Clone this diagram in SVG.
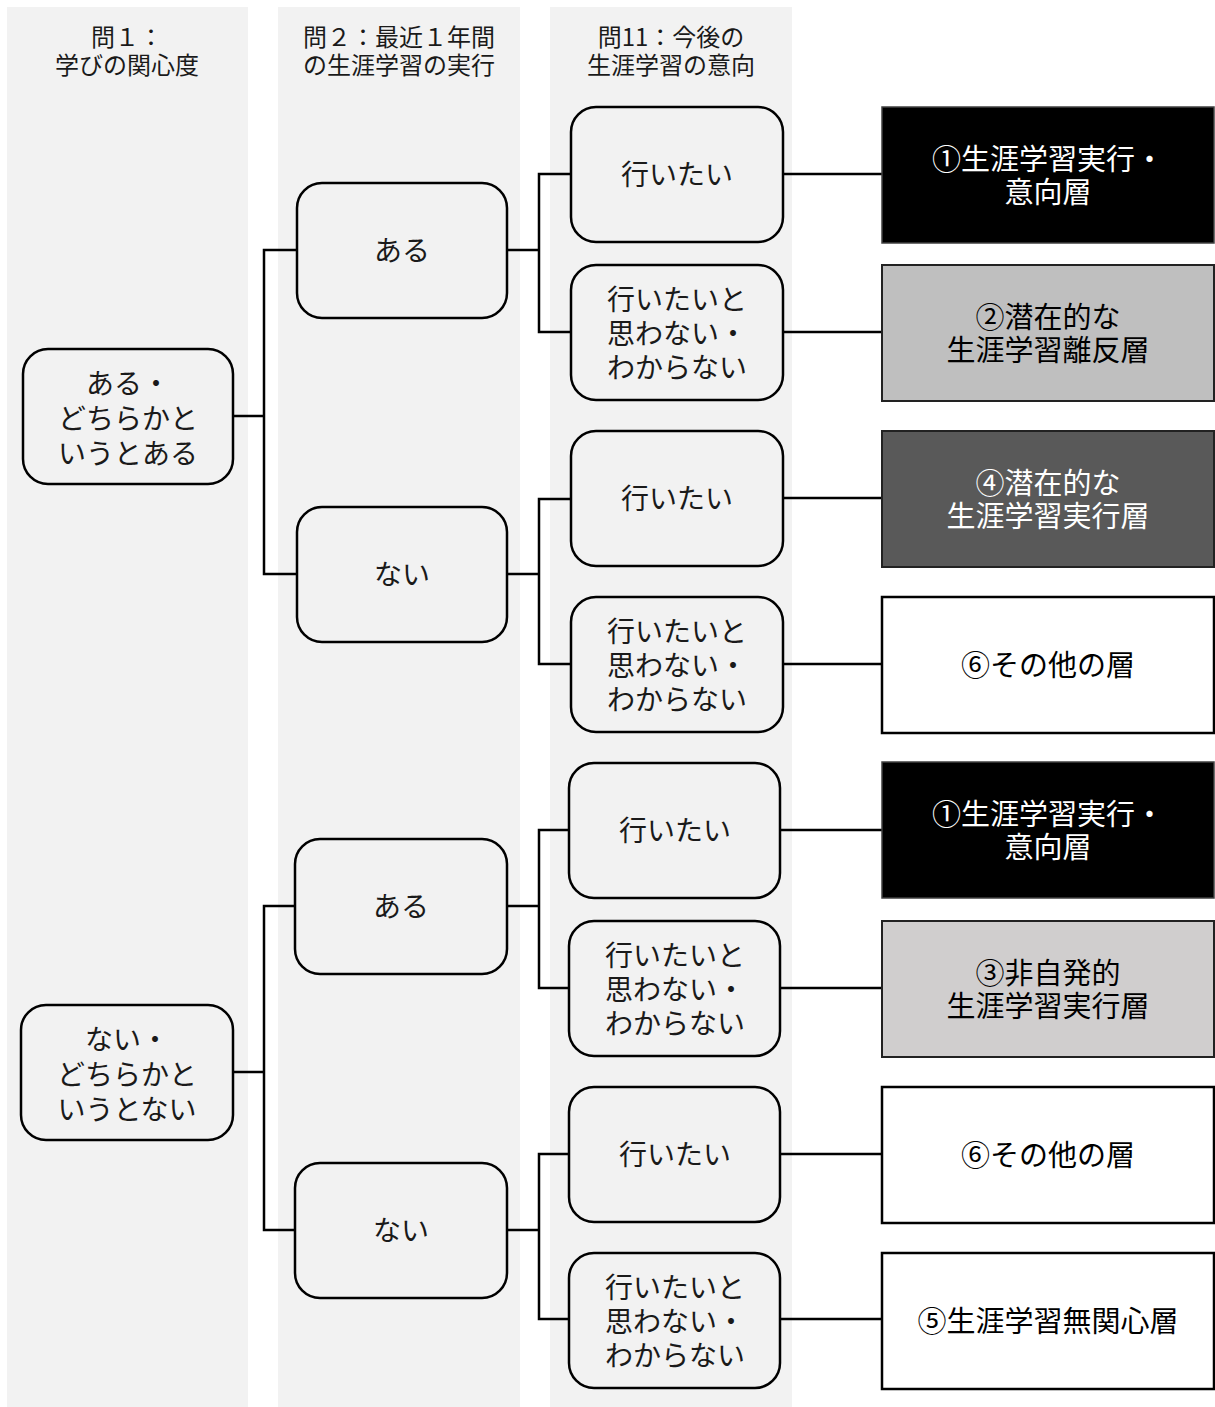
<svg xmlns="http://www.w3.org/2000/svg" width="1215" height="1407" viewBox="0 0 1215 1407">
<style>
.col{fill:#f2f2f2}
.hd{font-family:"Noto Sans CJK JP","Noto Sans CJK SC",sans-serif;font-size:24px;fill:#1a1a1a;text-anchor:middle}
.nd{fill:#f2f2f2;stroke:#000;stroke-width:2.5}
.t{font-family:"Noto Sans CJK JP","Noto Sans CJK SC",sans-serif;font-size:28px;fill:#1a1a1a;text-anchor:middle}
.r{font-family:"Noto Sans CJK JP","Noto Sans CJK SC",sans-serif;font-size:29px;fill:#000;text-anchor:middle}
.w{fill:#fff}
.cn{fill:none;stroke:#000;stroke-width:2.5}
</style>
<rect width="1215" height="1407" fill="#fff"/>
<g id="columns">
<rect class="col" x="7" y="7" width="241" height="1400"/>
<rect class="col" x="278" y="7" width="242" height="1400"/>
<rect class="col" x="550" y="7" width="242" height="1400"/>
</g>
<g id="headers">
<text class="hd" x="127" y="46">問１：</text>
<text class="hd" x="127" y="74">学びの関心度</text>
<text class="hd" x="399" y="46">問２：最近１年間</text>
<text class="hd" x="399" y="74">の生涯学習の実行</text>
<text class="hd" x="671" y="46">問11：今後の</text>
<text class="hd" x="671" y="74">生涯学習の意向</text>
</g>
<g id="connectors">
<path class="cn" d="M233,416 H264 M297,250 H264 V574 H297"/>
<path class="cn" d="M507,250 H539 M571,174 H539 V332 H571"/>
<path class="cn" d="M507,574 H539 M571,499 H539 V664 H571"/>
<path class="cn" d="M783,174 H882 M783,332 H882 M783,498 H882 M783,664 H882"/>
<path class="cn" d="M233,1072 H264 M295,906 H264 V1230 H295"/>
<path class="cn" d="M507,906 H539 M569,830 H539 V988 H569"/>
<path class="cn" d="M507,1230 H539 M569,1154 H539 V1319 H569"/>
<path class="cn" d="M780,830 H882 M780,988 H882 M780,1154 H882 M780,1319 H882"/>
</g>
<g id="q1-yes">
<rect class="nd" x="23" y="349" width="210" height="135" rx="25"/>
<text class="t" x="128" y="394">ある・</text>
<text class="t" x="128" y="429">どちらかと</text>
<text class="t" x="128" y="464">いうとある</text>
</g>
<g id="q1-no">
<rect class="nd" x="21" y="1005" width="212" height="135" rx="25"/>
<text class="t" x="127" y="1050">ない・</text>
<text class="t" x="127" y="1085">どちらかと</text>
<text class="t" x="127" y="1120">いうとない</text>
</g>
<g id="q2-a-yes">
<rect class="nd" x="297" y="183" width="210" height="135" rx="25"/>
<text class="t" x="402" y="261">ある</text>
</g>
<g id="q2-a-no">
<rect class="nd" x="297" y="507" width="210" height="135" rx="25"/>
<text class="t" x="402" y="585">ない</text>
</g>
<g id="q2-b-yes">
<rect class="nd" x="295" y="839" width="212" height="135" rx="25"/>
<text class="t" x="401" y="917">ある</text>
</g>
<g id="q2-b-no">
<rect class="nd" x="295" y="1163" width="212" height="135" rx="25"/>
<text class="t" x="401" y="1241">ない</text>
</g>
<g id="q11-1">
<rect class="nd" x="571" y="107" width="212" height="135" rx="25"/>
<text class="t" x="677" y="185">行いたい</text>
</g>
<g id="q11-2">
<rect class="nd" x="571" y="265" width="212" height="135" rx="25"/>
<text class="t" x="677" y="310">行いたいと</text>
<text class="t" x="677" y="344">思わない・</text>
<text class="t" x="677" y="378">わからない</text>
</g>
<g id="q11-3">
<rect class="nd" x="571" y="431" width="212" height="135" rx="25"/>
<text class="t" x="677" y="509">行いたい</text>
</g>
<g id="q11-4">
<rect class="nd" x="571" y="597" width="212" height="135" rx="25"/>
<text class="t" x="677" y="642">行いたいと</text>
<text class="t" x="677" y="676">思わない・</text>
<text class="t" x="677" y="710">わからない</text>
</g>
<g id="q11-5">
<rect class="nd" x="569" y="763" width="211" height="135" rx="25"/>
<text class="t" x="675" y="841">行いたい</text>
</g>
<g id="q11-6">
<rect class="nd" x="569" y="921" width="211" height="135" rx="25"/>
<text class="t" x="675" y="966">行いたいと</text>
<text class="t" x="675" y="1000">思わない・</text>
<text class="t" x="675" y="1034">わからない</text>
</g>
<g id="q11-7">
<rect class="nd" x="569" y="1087" width="211" height="135" rx="25"/>
<text class="t" x="675" y="1165">行いたい</text>
</g>
<g id="q11-8">
<rect class="nd" x="569" y="1253" width="211" height="135" rx="25"/>
<text class="t" x="675" y="1298">行いたいと</text>
<text class="t" x="675" y="1332">思わない・</text>
<text class="t" x="675" y="1366">わからない</text>
</g>
<g id="seg-1a">
<rect x="882" y="107" width="332" height="136" fill="#000" stroke="#404040" stroke-width="1.5"/>
<text class="r w" x="1048" y="170">①生涯学習実行・</text>
<text class="r w" x="1048" y="203">意向層</text>
</g>
<g id="seg-2">
<rect x="882" y="265" width="332" height="136" fill="#bfbfbf" stroke="#222" stroke-width="2"/>
<text class="r" x="1048" y="328">②潜在的な</text>
<text class="r" x="1048" y="361">生涯学習離反層</text>
</g>
<g id="seg-4">
<rect x="882" y="431" width="332" height="136" fill="#595959" stroke="#222" stroke-width="2"/>
<text class="r w" x="1048" y="494">④潜在的な</text>
<text class="r w" x="1048" y="527">生涯学習実行層</text>
</g>
<g id="seg-6a">
<rect x="882" y="597" width="332" height="136" fill="#fff" stroke="#000" stroke-width="2.5"/>
<text class="r" x="1048" y="676">⑥その他の層</text>
</g>
<g id="seg-1b">
<rect x="882" y="762" width="332" height="136" fill="#000" stroke="#404040" stroke-width="1.5"/>
<text class="r w" x="1048" y="825">①生涯学習実行・</text>
<text class="r w" x="1048" y="858">意向層</text>
</g>
<g id="seg-3">
<rect x="882" y="921" width="332" height="136" fill="#d0cece" stroke="#222" stroke-width="2"/>
<text class="r" x="1048" y="984">③非自発的</text>
<text class="r" x="1048" y="1017">生涯学習実行層</text>
</g>
<g id="seg-6b">
<rect x="882" y="1087" width="332" height="136" fill="#fff" stroke="#000" stroke-width="2.5"/>
<text class="r" x="1048" y="1166">⑥その他の層</text>
</g>
<g id="seg-5">
<rect x="882" y="1253" width="332" height="136" fill="#fff" stroke="#000" stroke-width="2.5"/>
<text class="r" x="1048" y="1332">⑤生涯学習無関心層</text>
</g>
</svg>
